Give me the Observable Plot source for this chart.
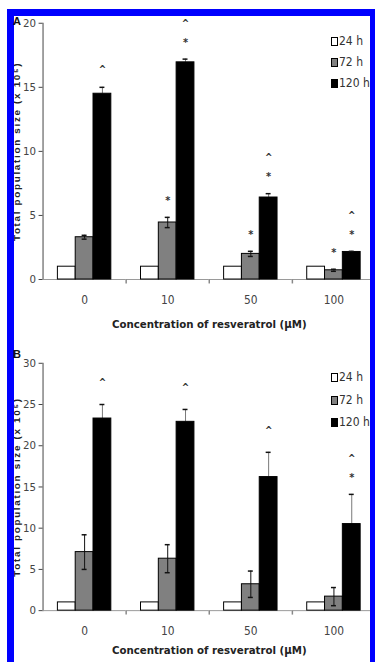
<!DOCTYPE html>
<html>
<head>
<meta charset="utf-8">
<script src="https://cdn.jsdelivr.net/npm/d3@7"></script>
<script src="https://cdn.jsdelivr.net/npm/@observablehq/plot@0.6"></script>
<style>
  html, body { margin: 0; padding: 0; background: #fff; overflow: hidden; }
  #page { position: relative; width: 375px; height: 662px; overflow: hidden; }
  .panel { position: absolute; left: 0; }
  .bar { position: absolute; background: #0000ff; z-index: 5; }
  .letter { position: absolute; font: bold 11px "Liberation Sans", Arial, sans-serif; color: #111; z-index: 6; }
  .legend { position: absolute; left: 331px; z-index: 4; font-family: "Liberation Sans Narrow", "DejaVu Sans Condensed", sans-serif; font-stretch: condensed; font-size: 12px; color: #333; }
  .legend .item { position: absolute; left: 0; white-space: nowrap; line-height: 12px; }
  .legend .sw { display: inline-block; width: 5px; height: 7px; border: 1px solid #000; margin-right: 1px; vertical-align: -1px; }
  svg g[aria-label="y-axis label"] text { font-family: "Liberation Sans", Arial, sans-serif !important; font-weight: bold !important; font-size: 10px !important; letter-spacing: 1.7px; fill: #222 !important; }
  svg g[aria-label="fx-axis label"] text { font-weight: bold !important; font-size: 11.5px !important; fill: #222 !important; }
  svg g[aria-label="y-axis tick label"] text { font-size: 11.5px !important; }
  svg g[aria-label="fx-axis tick label"] text { font-size: 12px !important; }
  svg g[aria-label="y-axis tick"] { stroke: #999; }
</style>
</head>
<body>
<div id="page">
  <div id="panelA" class="panel" style="top:0px"></div>
  <div id="panelB" class="panel" style="top:343px"></div>
  <div class="letter" style="left:13px; top:15px">A</div>
  <div class="letter" style="left:13px; top:348px">B</div>
  <div class="legend" id="legA" style="top:35px"></div>
  <div class="legend" id="legB" style="top:371px"></div>
  <div class="bar" style="left:7px; top:9px; width:368px; height:7px"></div>
  <div class="bar" style="left:7px; top:9px; width:7px; height:653px"></div>
  <div class="bar" style="left:370px; top:9px; width:5px; height:653px"></div>
</div>
<script>
// ---- data ----
const concentrations = ["0", "10", "50", "100"];
const series = ["24 h", "72 h", "120 h"];
const seriesColors = ["#ffffff", "#808080", "#000000"];

// Panel A
const aMean24 = [1, 1, 1, 1];
const aMean72 = [3.3, 4.45, 2.0, 0.72];
const aErr72 = [0.15, 0.4, 0.2, 0.08];
const aMean120 = [14.5, 16.95, 6.4, 2.15];
const aErr120 = [0.5, 0.25, 0.3, 0.05];
const aStar72 = [false, true, true, true];
const aStar120 = [false, true, true, true];
const aCaret120 = [true, true, true, true];
const aTicks = [0, 5, 10, 15, 20];

// Panel B
const bMean24 = [1, 1, 1, 1];
const bMean72 = [7.1, 6.3, 3.2, 1.7];
const bErr72 = [2.1, 1.7, 1.6, 1.1];
const bMean120 = [23.3, 22.9, 16.2, 10.5];
const bErr120 = [1.7, 1.5, 3.0, 3.6];
const bStar72 = [false, false, false, false];
const bStar120 = [false, false, false, true];
const bCaret120 = [true, true, true, true];
const bTicks = [0, 5, 10, 15, 20, 25, 30];

const xLabel = "Concentration of resveratrol (μM)";
const yLabel = "Total population size (x 10\u2075)";
const narrow = '"Liberation Sans Narrow", "DejaVu Sans Condensed", sans-serif';

const sepTick = { draw(ctx) { ctx.moveTo(0, 0); ctx.lineTo(0, 4); } };

function buildRows(m24, m72, e72, m120, e120, s72, s120, c120) {
  const rows = [];
  concentrations.forEach((c, i) => {
    rows.push({conc: c, series: "24 h", value: m24[i], err: 0, star: false, caret: false});
    rows.push({conc: c, series: "72 h", value: m72[i], err: e72[i], star: s72[i], caret: false});
    rows.push({conc: c, series: "120 h", value: m120[i], err: e120[i], star: s120[i], caret: c120[i]});
  });
  return rows;
}

function panel(rows, ticks, opts) {
  const withErr = rows.filter(d => d.err > 0);
  return Plot.plot({
    width: 379,
    height: opts.height,
    marginLeft: 43,
    marginRight: 0,
    marginTop: opts.marginTop,
    marginBottom: opts.marginBottom,
    style: {fontFamily: narrow, fontSize: "12px", color: "#444", background: "transparent", overflow: "visible"},
    fx: {domain: concentrations, padding: 0, label: xLabel, tickSize: 0, tickPadding: 16, labelOffset: opts.xLabelOffset},
    x: {domain: series, paddingInner: 0, paddingOuter: 0.75, axis: null},
    y: {domain: [0, ticks[ticks.length - 1]], ticks: ticks, tickSize: 4, tickPadding: 3, line: true,
        label: yLabel, labelArrow: "none", labelAnchor: "center", labelOffset: opts.yLabelOffset},
    color: {domain: series, range: seriesColors},
    marks: [
      Plot.ruleY([0], {stroke: "#999"}),
      Plot.dot(concentrations.slice(0, 3), {fx: d => d, frameAnchor: "bottom-right", symbol: sepTick, stroke: "#888", fill: "none", r: 3}),
      Plot.ruleX(withErr, {fx: "conc", x: "series", y1: d => d.series === "120 h" ? d.value : d.value - d.err, y2: d => d.value + d.err,
        stroke: d => d.series === "120 h" ? "#777" : "#111", strokeWidth: 1}),
      Plot.barY(rows, {fx: "conc", x: "series", y: "value", fill: "series", stroke: "#000", strokeWidth: 1}),
      Plot.ruleX(withErr.filter(d => d.series === "72 h"), {fx: "conc", x: "series", y1: d => d.value - d.err, y2: d => d.value, stroke: "#111", strokeWidth: 1}),
      Plot.tickY(withErr, {fx: "conc", x: "series", y: d => d.value + d.err, stroke: "#111", strokeWidth: 1.5, inset: 6.5}),
      Plot.tickY(withErr.filter(d => d.series === "72 h"), {fx: "conc", x: "series", y: d => d.value - d.err, stroke: "#111", strokeWidth: 1.5, inset: 6.5}),
      Plot.text(rows.filter(d => d.star), {fx: "conc", x: "series", y: d => d.value + d.err, text: () => "*", dy: -17, fontSize: 11, fontWeight: "bold", fill: "#333"}),
      Plot.text(rows.filter(d => d.caret && d.star), {fx: "conc", x: "series", y: d => d.value + d.err, text: () => "^", dy: -36, fontSize: 10, fontWeight: "bold", fill: "#333"}),
      Plot.text(rows.filter(d => d.caret && !d.star), {fx: "conc", x: "series", y: d => d.value + d.err, text: () => "^", dy: opts.caretDy, fontSize: 10, fontWeight: "bold", fill: "#333"})
    ]
  });
}

const rowsA = buildRows(aMean24, aMean72, aErr72, aMean120, aErr120, aStar72, aStar120, aCaret120);
const rowsB = buildRows(bMean24, bMean72, bErr72, bMean120, bErr120, bStar72, bStar120, bCaret120);

document.getElementById("panelA").append(panel(rowsA, aTicks, {height: 332, marginTop: 23, marginBottom: 50, xLabelOffset: 49, yLabelOffset: 30, caretDy: -18}));
document.getElementById("panelB").append(panel(rowsB, bTicks, {height: 319, marginTop: 20, marginBottom: 49, xLabelOffset: 44, yLabelOffset: 30, caretDy: -22}));

function legend(el, spacing) {
  series.forEach((s, i) => {
    const item = document.createElement("div");
    item.className = "item";
    item.style.top = (i * spacing) + "px";
    const sw = document.createElement("span");
    sw.className = "sw";
    sw.style.background = seriesColors[i];
    item.append(sw, document.createTextNode(s));
    el.append(item);
  });
}
legend(document.getElementById("legA"), 21);
legend(document.getElementById("legB"), 22.5);
</script>
</body>
</html>
